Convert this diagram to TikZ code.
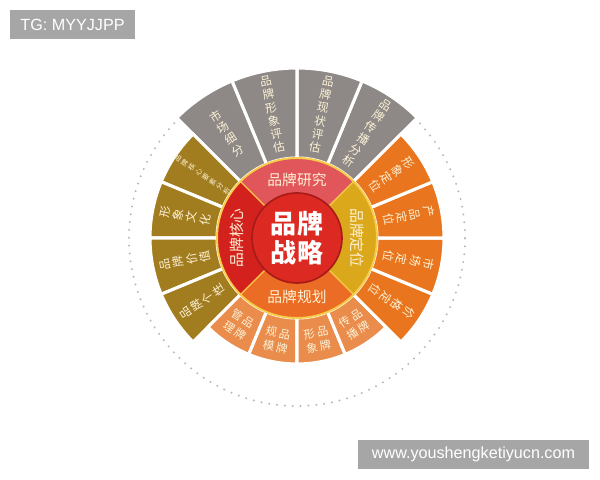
\documentclass[tikz,border=0pt]{standalone}
\usepackage{fontspec}
\newfontfamily\cjk{Noto Sans CJK SC}
\newfontfamily\wmfont{Liberation Sans}
\definecolor{graySeg}{HTML}{8E8986}
\definecolor{oliveSeg}{HTML}{A27D20}
\definecolor{orangeSeg}{HTML}{E9761E}
\definecolor{peachSeg}{HTML}{E98C4C}
\definecolor{research}{HTML}{E0565A}
\definecolor{position}{HTML}{DBA81C}
\definecolor{planning}{HTML}{EB6C24}
\definecolor{core}{HTML}{D3221E}
\definecolor{strategy}{HTML}{DC2A22}
\definecolor{rim}{HTML}{F6CC4A}
\definecolor{cream}{HTML}{FDF2D6}
\definecolor{wmgray}{HTML}{A6A6A6}
\tikzset{
  seg/.style={draw=white, line width=2.2pt},
  seglabel/.style={font=\cjk\fontsize{8.3}{9.6}\selectfont, text=cream, align=center, inner sep=0pt},
  pairlabel/.style={font=\cjk\fontsize{8}{10}\selectfont},
  ringlabel/.style={font=\cjk\fontsize{10.5}{12}\selectfont, text=cream, inner sep=0pt},
  wmark/.style={fill=wmgray, text=white, font=\wmfont\fontsize{11.5}{13}\selectfont, minimum height=0.725cm, inner sep=0pt}
}

\begin{document}
\begin{tikzpicture}[x=0.025cm, y=0.025cm]
\useasboundingbox (0,0) rectangle (600,480);
\begin{scope}[shift={(297,242)}]
    \draw[gray!55, line width=1.6pt, line cap=round, dash pattern=on 0pt off 5.6pt] (0,0) circle (168);
    % outer segments
    \foreach \a in {45,67.5,90,112.5}
        \filldraw[fill=graySeg, seg] (\a:80) arc (\a:\a+22.5:80) -- (\a+22.5:170) arc (\a+22.5:\a:170) -- cycle;
    \foreach \a in {135,157.5,180,202.5}
        \filldraw[fill=oliveSeg, seg] (\a:80) arc (\a:\a+22.5:80) -- (\a+22.5:147) arc (\a+22.5:\a:147) -- cycle;
    \foreach \a in {225,247.5,270,292.5}
        \filldraw[fill=peachSeg, seg] (\a:80) arc (\a:\a+22.5:80) -- (\a+22.5:126) arc (\a+22.5:\a:126) -- cycle;
    \foreach \a in {-45,-22.5,0,22.5}
        \filldraw[fill=orangeSeg, seg] (\a:80) arc (\a:\a+22.5:80) -- (\a+22.5:147) arc (\a+22.5:\a:147) -- cycle;
    % middle ring
    \fill[research] (0,0) -- (45:80) arc (45:135:80) -- cycle;
    \fill[core] (0,0) -- (135:80) arc (135:225:80) -- cycle;
    \fill[planning] (0,0) -- (225:80) arc (225:315:80) -- cycle;
    \fill[position] (0,0) -- (-45:80) arc (-45:45:80) -- cycle;
    \foreach \a in {45,135,225,315}
        \draw[rim, line width=0.8pt] (\a:45) -- (\a:80);
    \draw[rim, line width=1.4pt] (0,0) circle (80);
    \filldraw[fill=strategy, draw=core!80!black, line width=1.2pt] (0,0) circle (45);

    \node[font=\cjk\bfseries\fontsize{18.5}{20.5}\selectfont, text=white, align=center, inner sep=0pt] (strat) at (0,0) {品牌\\战略};

    \node[ringlabel] (research) at (90:58) {品牌研究};
    \node[ringlabel, rotate=-90] (position) at (0:60) {品牌定位};
    \node[ringlabel] (planning) at (270:59) {品牌规划};
    \node[ringlabel, rotate=90] (core) at (180:60) {品牌核心};

\begin{scope}[every node/.style={seglabel}]
    \node[rotate=33.75] (market) at (123.75:126) {市\\场\\细\\分};
    \node[rotate=11.25] (imgeval) at (101.25:126) {品\\牌\\形\\象\\评\\估};
    \node[rotate=-11.25] (stateval) at (78.75:126) {品\\牌\\现\\状\\评\\估};
    \node[rotate=-33.75] (commana) at (56.25:126) {品\\牌\\传\\播\\分\\析};

    \node[rotate=-56.25] (imgpos) at (33.75:114) {形\\象\\定\\位};
    \node[rotate=-78.75] (prodpos) at (11.25:114) {产\\品\\定\\位};
    \node[rotate=-101.25] (mktpos) at (-11.25:114) {市\\场\\定\\位};
    \node[rotate=-123.75] (pricepos) at (-33.75:114) {价\\格\\定\\位};

    \node[rotate=56.25, font=\cjk\fontsize{5}{6}\selectfont] (coreana) at (146.25:114) {品\\牌\\核\\心\\要\\素\\分\\析};
    \node[rotate=78.75] (culture) at (168.75:114) {形\\象\\文\\化};
    \node[rotate=101.25] (value) at (191.25:114) {品\\牌\\价\\值};
    \node[rotate=123.75] (persona) at (213.75:114) {品\\牌\\个\\性};

    \node[rotate=-33.75, pairlabel] (manage) at (236.25:104) {管\hspace{1.5pt}品\\理\hspace{1.5pt}牌};
    \node[rotate=-11.25, pairlabel] (scale) at (258.75:104) {规\hspace{1.5pt}品\\模\hspace{1.5pt}牌};
    \node[rotate=11.25, pairlabel] (image) at (281.25:104) {形\hspace{1.5pt}品\\象\hspace{1.5pt}牌};
    \node[rotate=33.75, pairlabel] (spread) at (303.75:104) {传\hspace{1.5pt}品\\播\hspace{1.5pt}牌};
\end{scope}
\end{scope}

\node[wmark, minimum width=3.125cm] (tag) at (72.5,455.5) {TG: MYYJJPP};
\node[wmark, minimum width=5.775cm] (site) at (473.5,25.5) {www.youshengketiyucn.com};
\end{tikzpicture}
\end{document}
